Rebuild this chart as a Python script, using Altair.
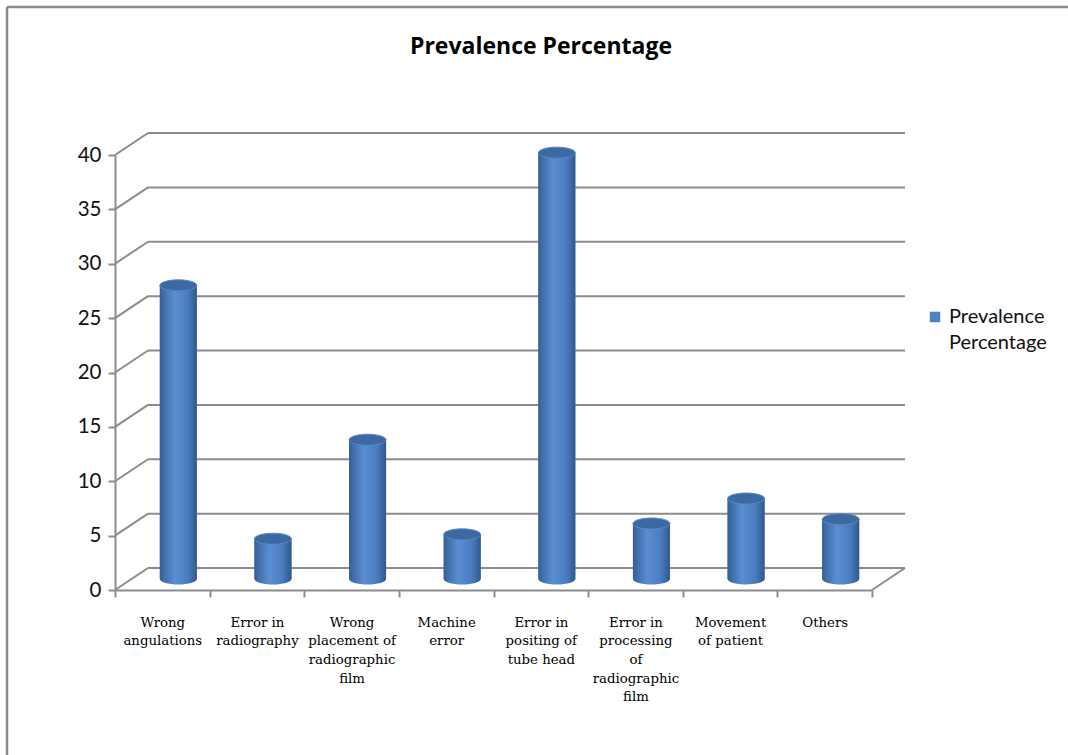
import json
import altair as alt
import pandas as pd

# ---- data ----
categories = [
    "Wrong angulations",
    "Error in radiography",
    "Wrong placement of radiographic film",
    "Machine error",
    "Error in positing of tube head",
    "Error in processing of radiographic film",
    "Movement of patient",
    "Others",
]
values = [27.0, 3.7, 12.8, 4.1, 39.2, 5.1, 7.4, 5.5]
series_name = "Prevalence Percentage"
y_ticks = [0, 5, 10, 15, 20, 25, 30, 35, 40]
label_lines = {
    "Wrong angulations": ["Wrong", "angulations"],
    "Error in radiography": ["Error in", "radiography"],
    "Wrong placement of radiographic film": ["Wrong", "placement of", "radiographic", "film"],
    "Machine error": ["Machine", "error"],
    "Error in positing of tube head": ["Error in", "positing of", "tube head"],
    "Error in processing of radiographic film": ["Error in", "processing", "of", "radiographic", "film"],
    "Movement of patient": ["Movement", "of patient"],
    "Others": ["Others"],
}

bars_df = pd.DataFrame({"category": categories, "value": values, "series": [series_name] * len(categories)})
grid_df = pd.DataFrame({"value": y_ticks})
one_df = pd.DataFrame({"a": [0]})

# ---- layout constants ----
W, H = 757, 435
DX, DY = 33, -22          # depth offset of back wall
MX, MY = 16, -11          # mid-depth offset for the cylinders
BAR_W = 37
GRID = "#8c8c8c"

yscale = alt.Scale(domain=[0, 40], nice=False, zero=True)
xscale = alt.Scale(domain=categories, paddingInner=0, paddingOuter=0)

yaxis = alt.Axis(
    title=None, values=y_ticks, grid=False, domainColor=GRID, domainWidth=2,
    tickColor=GRID, tickWidth=2, tickSize=7, labelFont="Lato", labelFontSize=20.5,
    labelColor="#111111", labelPadding=7,
)
xaxis = alt.Axis(
    title=None, labelAngle=0, grid=False, domainColor=GRID, domainWidth=2,
    tickColor=GRID, tickWidth=2, tickSize=7, tickBand="extent",
    labelFont="DejaVu Serif", labelFontSize=13.3, labelColor="#000000",
    labelPadding=18, labelLineHeight=18.7, labelBaseline="top",
    labelExpr=json.dumps(label_lines) + "[datum.label]",
)

X = alt.X("category:N", scale=xscale, axis=xaxis, sort=categories)
Y = alt.Y("value:Q", scale=yscale, axis=yaxis)

cyl = alt.Gradient(
    gradient="linear", x1=0, x2=1, y1=0, y2=0,
    stops=[
        alt.GradientStop(offset=0, color="#345f94"),
        alt.GradientStop(offset=0.12, color="#426fab"),
        alt.GradientStop(offset=0.4, color="#5b8ed2"),
        alt.GradientStop(offset=0.75, color="#4a7dbf"),
        alt.GradientStop(offset=1, color="#30588a"),
    ],
)
ellipse = "M -1 0 A 1 0.3 0 1 0 1 0 A 1 0.3 0 1 0 -1 0 Z"
legend_square = "M -1 -2.15 H 1 V -0.15 H -1 Z"

# back wall gridlines
back_grid = alt.Chart(grid_df).mark_rule(color=GRID, strokeWidth=2, yOffset=DY).encode(
    y=Y, x=alt.value(DX), x2=alt.value(W + DX)
)
# left wall diagonals
diag = alt.Chart(grid_df).mark_rule(color=GRID, strokeWidth=2, y2Offset=DY).encode(
    y=Y, y2=alt.Y2("value:Q"), x=alt.value(0), x2=alt.value(DX)
)
# floor right diagonal
floor_diag = alt.Chart(grid_df).transform_filter("datum.value == 0").mark_rule(
    color=GRID, strokeWidth=2, y2Offset=DY
).encode(y=Y, y2=alt.Y2("value:Q"), x=alt.value(W), x2=alt.value(W + DX))

# outer frame
frame_left = alt.Chart(one_df).mark_rule(color="#8a8a8a", strokeWidth=2.5).encode(
    x=alt.value(-108), y=alt.value(-148), y2=alt.value(H + 200)
)
frame_top = alt.Chart(one_df).mark_rule(color="#8a8a8a", strokeWidth=2.5).encode(
    x=alt.value(-108), x2=alt.value(W + 260), y=alt.value(-148)
)

# cylinder bottom
bottom = alt.Chart(bars_df).mark_point(
    shape=ellipse, size=BAR_W * BAR_W, filled=True, fill=cyl, opacity=1,
    strokeWidth=0, xOffset=MX, yOffset=MY,
).encode(x=X, y=alt.Y("zero:Q", scale=yscale, axis=yaxis)).transform_calculate(zero="0")

# flat bar carrying the legend
legend_bar = alt.Chart(bars_df).mark_bar(
    size=BAR_W, xOffset=MX, yOffset=MY, y2Offset=MY
).encode(
    x=X, y=Y,
    color=alt.Color(
        "series:N",
        scale=alt.Scale(range=["#4f81bd"]),
        legend=alt.Legend(
            title=None, orient="none", legendX=810, legendY=158,
            symbolType=legend_square, symbolSize=110, symbolStrokeWidth=0,
            labelFont="Lato", labelFontSize=20, labelColor="#111111",
            labelOffset=4, labelBaseline="alphabetic",
            labelExpr="split(datum.label, ' ')", labelLimit=200,
        ),
    ),
)
# gradient cylinder body
body = alt.Chart(bars_df).mark_bar(
    size=BAR_W, xOffset=MX, yOffset=MY, y2Offset=MY, fill=cyl
).encode(x=X, y=Y)

# cylinder top
top = alt.Chart(bars_df).mark_point(
    shape=ellipse, size=BAR_W * BAR_W, filled=True, fill="#3d69a2", opacity=1,
    stroke="#5a88c6", strokeWidth=1, xOffset=MX, yOffset=MY,
).encode(x=X, y=Y)

title = alt.Chart(one_df).mark_text(
    text="Prevalence Percentage", font="Open Sans", fontWeight="bold", fontSize=23,
    color="#000000", align="center", baseline="middle",
).encode(x=alt.value(426), y=alt.value(-108))

chart = alt.layer(
    frame_left, frame_top, back_grid, diag, floor_diag, bottom, legend_bar, body, top, title
).properties(
    width=W, height=H,
    padding={"left": 115, "top": 155, "right": 1068 - 115 - W, "bottom": 755 - 155 - H},
    autosize=alt.AutoSizeParams(type="none"),
).configure(
    background="white",
    view=alt.ViewConfig(strokeWidth=0),
    style={"guide-label": {"lineHeight": 26}},
)

chart.save("out.html", embed_options={"renderer": "svg", "actions": False})
